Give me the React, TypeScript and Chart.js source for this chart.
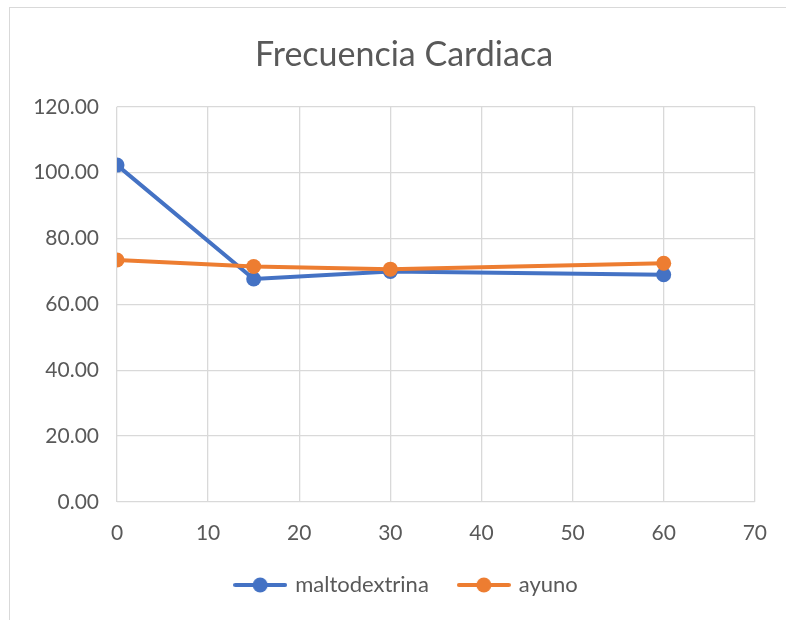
import React, { useEffect, useRef } from "react";
import { Chart, registerables } from "chart.js";

Chart.register(...registerables);

const timeMinutes = [0, 15, 30, 60];
const maltodextrina = [102.3, 67.7, 70.0, 69.0];
const ayuno = [73.5, 71.5, 70.7, 72.5];
const seriesNames = ["maltodextrina", "ayuno"];
const seriesColors = ["#4472C4", "#ED7D31"];
const chartTitle = "Frecuencia Cardiaca";

const FONT = "Lato, 'Open Sans', sans-serif";
const TEXT = "#595959";
const GRID = "#d9d9d9";

function makeMarker(color: string): HTMLCanvasElement {
  const c = document.createElement("canvas");
  c.width = 54;
  c.height = 16;
  const ctx = c.getContext("2d")!;
  ctx.strokeStyle = color;
  ctx.lineWidth = 4;
  ctx.lineCap = "round";
  ctx.beginPath();
  ctx.moveTo(2, 8);
  ctx.lineTo(52, 8);
  ctx.stroke();
  ctx.fillStyle = color;
  ctx.beginPath();
  ctx.arc(27, 8, 7.5, 0, Math.PI * 2);
  ctx.fill();
  return c;
}

const shiftBlocks = {
  id: "shiftBlocks",
  afterLayout(chart: any) {
    const t = chart.titleBlock;
    if (t) {
      t.left += 26;
      t.right += 26;
    }
    const l = chart.legend;
    if (l) {
      l.left += 29;
      l.right += 29;
    }
  },
};

export default function App() {
  const ref = useRef<HTMLCanvasElement | null>(null);

  useEffect(() => {
    if (!ref.current) return;
    const series = [maltodextrina, ayuno];
    const markers = seriesColors.map((c) => makeMarker(c));
    const chart = new Chart(ref.current, {
      type: "scatter",
      data: {
        datasets: series.map((vals, i) => ({
          label: seriesNames[i],
          data: vals.map((v, j) => ({ x: timeMinutes[j], y: v })),
          showLine: true,
          borderColor: seriesColors[i],
          backgroundColor: seriesColors[i],
          borderWidth: 4,
          pointRadius: 7.5,
          pointHoverRadius: 7.5,
          pointBorderWidth: 0,
          order: i === 0 ? 1 : 0,
        })),
      },
      plugins: [shiftBlocks],
      options: {
        responsive: false,
        animation: false,
        layout: { padding: { left: 0, right: 30, top: 0, bottom: 14 } },
        plugins: {
          title: {
            display: true,
            text: chartTitle,
            color: TEXT,
            font: { family: FONT, size: 34, weight: "normal" },
            padding: { top: 35, bottom: 31 },
          },
          legend: {
            position: "bottom",
            labels: {
              color: TEXT,
              font: { family: FONT, size: 22 },
              usePointStyle: true,
              pointStyleWidth: 48,
              padding: 31,
              generateLabels: () =>
                seriesNames.map((name, i) => ({
                  text: name,
                  fillStyle: seriesColors[i],
                  strokeStyle: seriesColors[i],
                  lineWidth: 0,
                  pointStyle: markers[i],
                  datasetIndex: i,
                  hidden: false,
                  fontColor: TEXT,
                })),
            },
          },
          tooltip: { enabled: false },
        },
        scales: {
          x: {
            type: "linear",
            min: 0,
            max: 70,
            ticks: {
              stepSize: 10,
              color: TEXT,
              font: { family: FONT, size: 21 },
              padding: 19,
            },
            grid: { color: GRID, lineWidth: 1.3, drawTicks: false },
            border: { display: false },
            afterFit: (s: any) => {
              s.height = 41;
            },
          },
          y: {
            min: 0,
            max: 120,
            ticks: {
              stepSize: 20,
              color: TEXT,
              font: { family: FONT, size: 21 },
              padding: 18,
              callback: (v: any) => Number(v).toFixed(2),
            },
            grid: { color: GRID, lineWidth: 1.3, drawTicks: false },
            border: { display: false },
            afterFit: (s: any) => {
              s.width = 117;
            },
          },
        },
      },
    });
    return () => chart.destroy();
  }, []);

  return (
    <div
      style={{
        position: "fixed",
        left: 0,
        top: 0,
        width: 786,
        height: 620,
        overflow: "hidden",
        background: "#fff",
      }}
    >
      <div
        style={{
          position: "absolute",
          left: 9,
          top: 7,
          width: 820,
          height: 700,
          border: "1.5px solid #d9d9d9",
          boxSizing: "border-box",
        }}
      />
      <canvas
        ref={ref}
        width={786}
        height={620}
        style={{ position: "absolute", left: 0, top: 0 }}
      />
    </div>
  );
}
